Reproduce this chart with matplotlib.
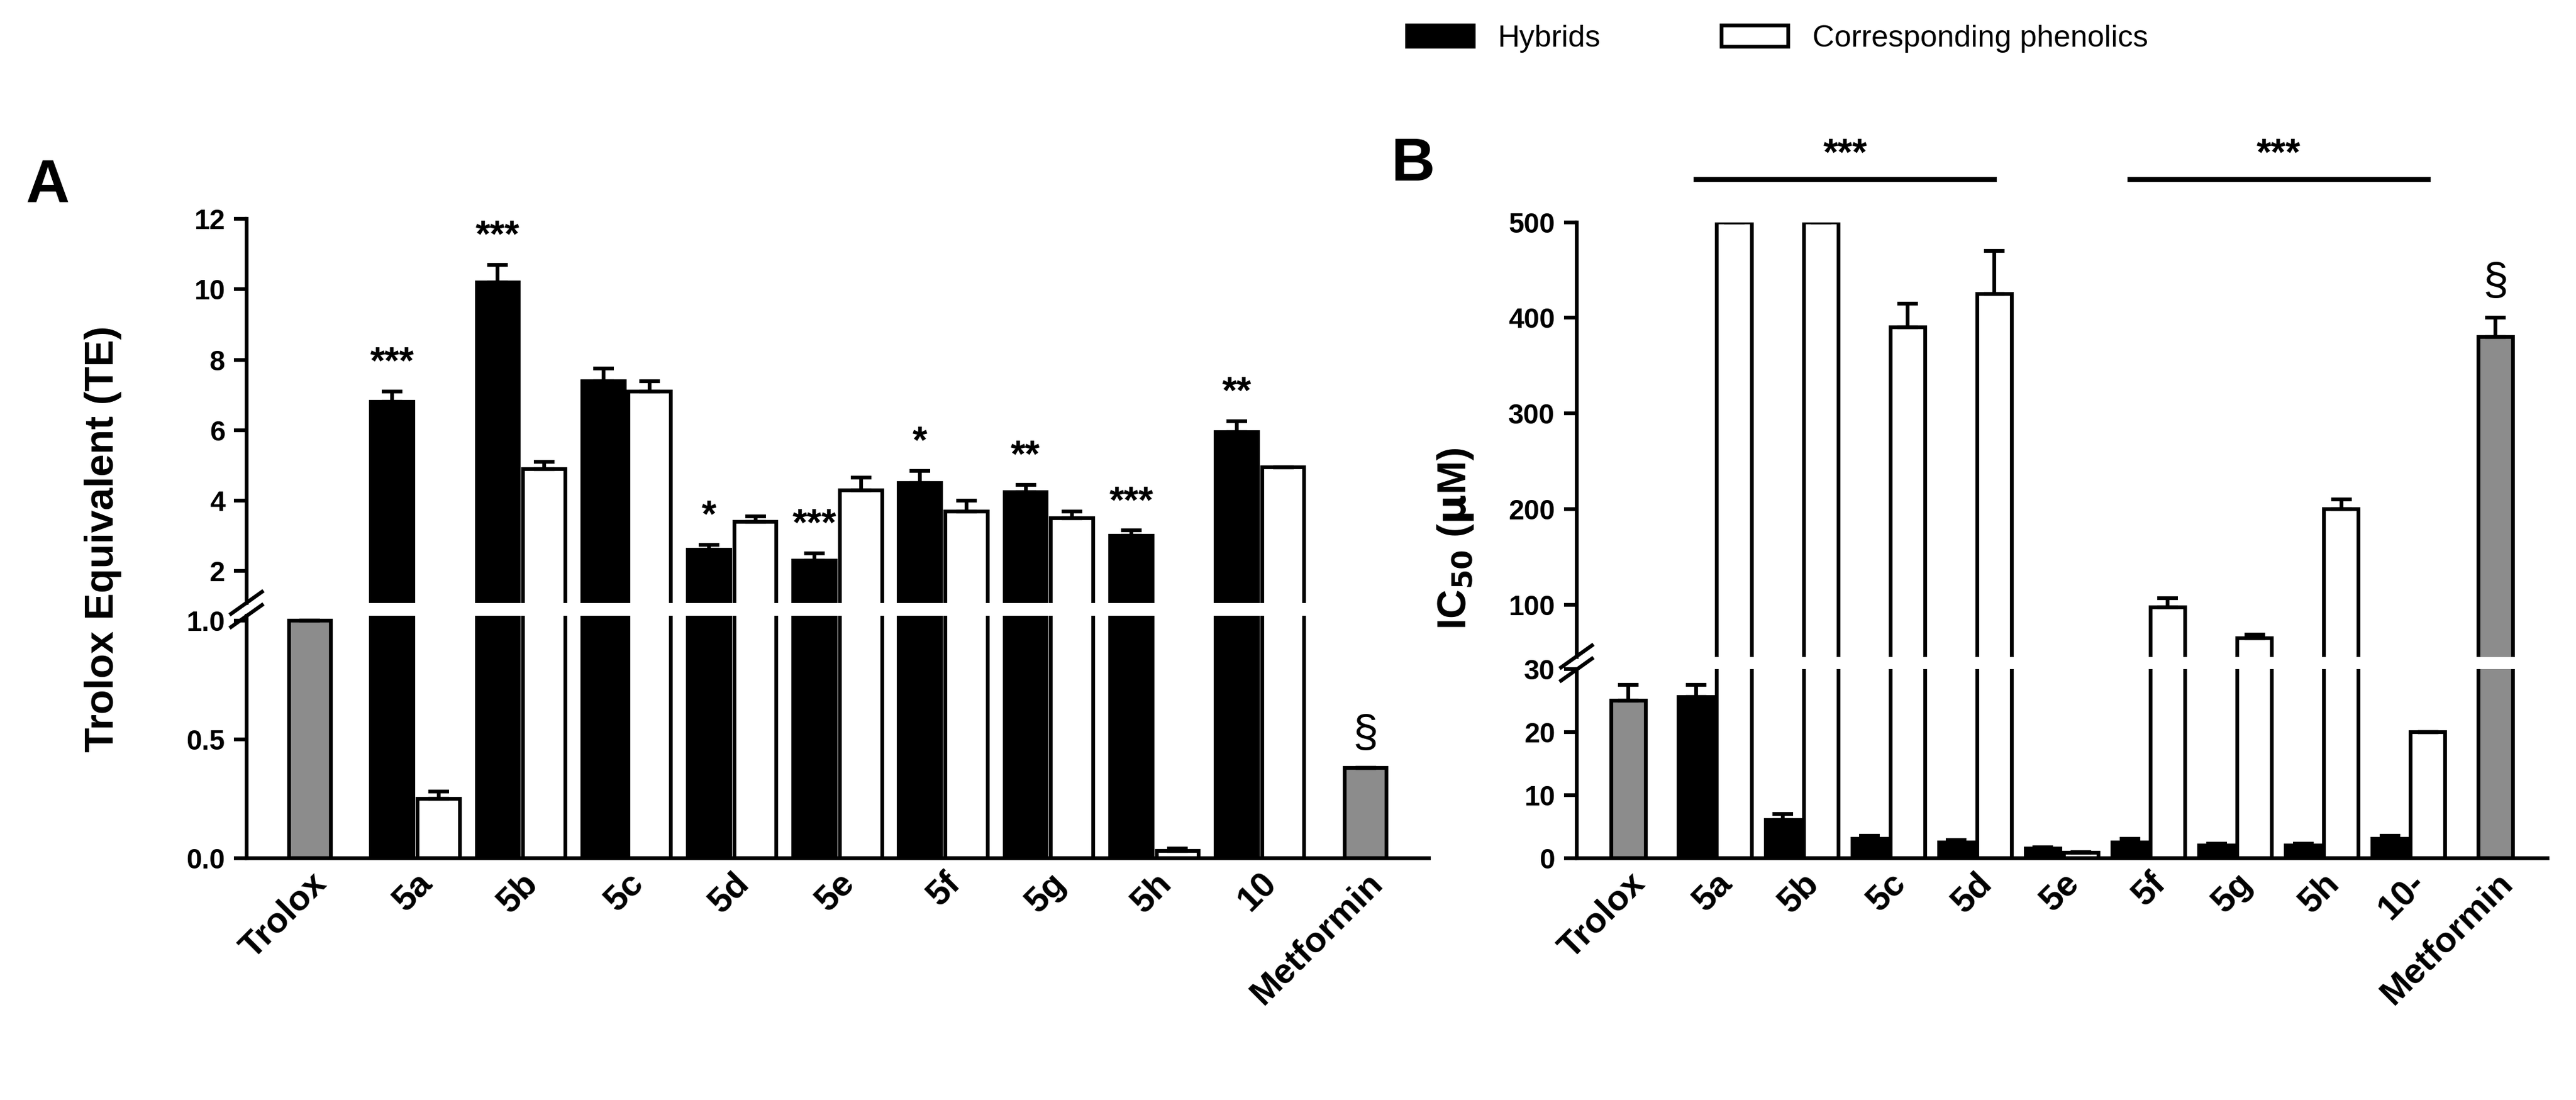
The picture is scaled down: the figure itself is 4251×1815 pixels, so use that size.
import numpy as np
import matplotlib.pyplot as plt
from matplotlib.patches import Patch

plt.rcParams['font.family'] = ['Liberation Sans', 'DejaVu Sans']
plt.rcParams['font.weight'] = 'bold'

PAIRS = ["5a", "5b", "5c", "5d", "5e", "5f", "5g", "5h"]

# Panel A: Trolox equivalent
A_LABELS = ["Trolox"] + PAIRS + ["10", "Metformin"]
A_TROLOX = 1.0
A_METFORMIN = 0.38
A_HYB = [6.8, 10.2, 7.4, 2.6, 2.3, 4.5, 4.25, 3.0, 5.95]
A_HYB_ERR = [0.3, 0.5, 0.35, 0.15, 0.2, 0.35, 0.2, 0.15, 0.3]
A_PHE = [0.25, 4.9, 7.1, 3.4, 4.3, 3.7, 3.5, 0.03, 4.95]
A_PHE_ERR = [0.03, 0.2, 0.3, 0.15, 0.35, 0.3, 0.2, 0.01, 0.0]
A_STARS = ["***", "***", "", "*", "***", "*", "**", "***", "**"]

# Panel B: IC50
B_LABELS = ["Trolox"] + PAIRS + ["10-", "Metformin"]
B_TROLOX, B_TROLOX_ERR = 25.0, 2.5
B_METFORMIN, B_METFORMIN_ERR = 380.0, 20.0
B_HYB = [25.5, 6.0, 3.0, 2.5, 1.5, 2.5, 2.0, 2.0, 3.0]
B_HYB_ERR = [2.0, 1.0, 0.5, 0.4, 0.2, 0.5, 0.3, 0.3, 0.5]
B_PHE = [500, 500, 390, 425, 0.8, 97, 65, 200, 20]
B_PHE_ERR = [0, 0, 25, 45, 0.1, 10, 4, 10, 0]

GRAY = "#8c8c8c"
W = 0.4
OFF = 0.22


def draw_bars(ax, trolox, t_err, hyb, h_err, phe, p_err, metf, m_err):
    n = len(hyb)
    xs = np.arange(1, n + 1)
    kw = dict(edgecolor="black", linewidth=1.5,
              error_kw=dict(lw=1.5, capsize=4, capthick=1.5))
    ax.bar(0, trolox, W, yerr=[[0], [t_err]], color=GRAY, **kw)
    ax.bar(xs - OFF, hyb, W, yerr=[np.zeros(n), h_err], color="black", **kw)
    ax.bar(xs + OFF, phe, W, yerr=[np.zeros(n), p_err], color="white", **kw)
    ax.bar(n + 1, metf, W, yerr=[[0], [m_err]], color=GRAY, **kw)
    ax.set_xlim(-0.6, n + 1.6)


def style(ax, top):
    ax.spines["top"].set_visible(False)
    ax.spines["right"].set_visible(False)
    for s in ["left", "bottom"]:
        ax.spines[s].set_linewidth(1.5)
    ax.tick_params(width=1.5, length=5, labelsize=11)
    if top:
        ax.spines["bottom"].set_visible(False)
        ax.tick_params(axis="x", bottom=False, labelbottom=False)


def break_mark(fig, ax_low, ax_up):
    x0 = ax_low.get_position().x0
    y = (ax_low.get_position().y1 + ax_up.get_position().y0) / 2
    for dy in (-0.006, 0.006):
        fig.add_artist(plt.Line2D([x0 - 0.006, x0 + 0.006], [y + dy - 0.01, y + dy + 0.01],
                                  color="black", lw=1.5))


fig = plt.figure(figsize=(4251 / 300, 1815 / 300), dpi=300)

# ---- Panel A ----
axA_up = fig.add_axes([0.0957, 0.452, 0.459, 0.349])
axA_lo = fig.add_axes([0.0957, 0.220, 0.459, 0.220])
for ax in (axA_up, axA_lo):
    draw_bars(ax, A_TROLOX, 0, A_HYB, A_HYB_ERR, A_PHE, A_PHE_ERR, A_METFORMIN, 0)
axA_up.set_ylim(1.1, 12)
axA_up.set_yticks(range(2, 13, 2))
axA_lo.set_ylim(0, 1.02)
axA_lo.set_yticks([0.0, 0.5, 1.0])
axA_lo.set_yticklabels(["0.0", "0.5", "1.0"])
style(axA_up, True)
style(axA_lo, False)
axA_lo.set_xticks([0] + list(range(1, 10)) + [10])
axA_lo.set_xticklabels(A_LABELS, rotation=45, ha="right", rotation_mode="anchor", fontsize=14)
axA_lo.tick_params(axis="x", length=0)
for i, s in enumerate(A_STARS):
    if s:
        axA_up.text(i + 1 - OFF, A_HYB[i] + A_HYB_ERR[i] + 0.3, s, ha="center", va="bottom", fontsize=15)
axA_lo.text(10, A_METFORMIN + 0.05, "§", ha="center", va="bottom", fontsize=18, fontweight="normal")
fig.text(0.04, 0.51, "Trolox Equivalent (TE)", rotation=90, ha="center", va="center", fontsize=16)
fig.text(0.01, 0.83, "A", fontsize=24, ha="left", va="center")
break_mark(fig, axA_lo, axA_up)

# ---- Panel B ----
axB_up = fig.add_axes([0.612, 0.4025, 0.377, 0.3955])
axB_lo = fig.add_axes([0.612, 0.220, 0.377, 0.172])
for ax in (axB_up, axB_lo):
    draw_bars(ax, B_TROLOX, B_TROLOX_ERR, B_HYB, B_HYB_ERR, B_PHE, B_PHE_ERR,
              B_METFORMIN, B_METFORMIN_ERR)
axB_up.set_ylim(45, 500)
axB_up.set_yticks([100, 200, 300, 400, 500])
axB_lo.set_ylim(0, 30)
axB_lo.set_yticks([0, 10, 20, 30])
style(axB_up, True)
style(axB_lo, False)
axB_lo.set_xticks(range(0, 11))
axB_lo.set_xticklabels(B_LABELS, rotation=45, ha="right", rotation_mode="anchor", fontsize=14)
axB_lo.tick_params(axis="x", length=0)
for x0, x1 in [(1 - OFF, 4 + OFF), (6 - OFF, 9 + OFF)]:
    axB_up.plot([x0, x1], [545, 545], color="black", lw=2, clip_on=False)
    axB_up.text((x0 + x1) / 2, 552, "***", ha="center", va="bottom", fontsize=15)
axB_up.text(10, B_METFORMIN + B_METFORMIN_ERR + 15, "§", ha="center", va="bottom",
            fontsize=18, fontweight="normal")
fig.text(0.565, 0.51, "IC$_{\\mathbf{50}}$ ($\\mathbf{\\mu}$M)", rotation=90, ha="center",
         va="center", fontsize=16)
fig.text(0.54, 0.85, "B", fontsize=24, ha="left", va="center")
break_mark(fig, axB_lo, axB_up)

handles = [Patch(facecolor="black", edgecolor="black", lw=1.5, label="Hybrids"),
           Patch(facecolor="white", edgecolor="black", lw=1.5, label="Corresponding phenolics")]
fig.legend(handles=handles, loc="center", bbox_to_anchor=(0.69, 0.965), ncol=2, frameon=False,
           prop=dict(size=12, weight="normal"), columnspacing=4, handlelength=2.2)

fig.savefig("out.png", dpi=300)
